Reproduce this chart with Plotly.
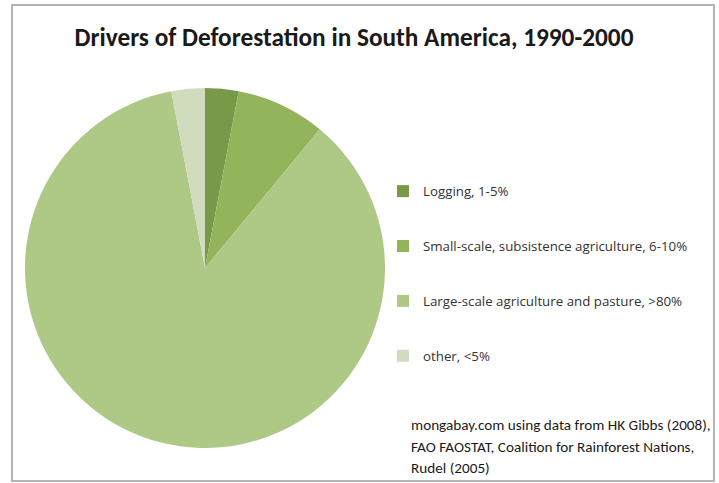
import plotly.graph_objects as go

# ---- data ----
categories = [
    "Logging, 1-5%",
    "Small-scale, subsistence agriculture, 6-10%",
    "Large-scale agriculture and pasture, >80%",
    "other, <5%",
]
shares = [3, 8, 86, 3]
colors = ["#789947", "#93b45a", "#aec886", "#d1dcbf"]
title_text = "Drivers of Deforestation in South America, 1990-2000"
source_lines = [
    "mongabay.com using data from HK Gibbs (2008),",
    "FAO FAOSTAT, Coalition for Rainforest Nations,",
    "Rudel (2005)",
]

W, H = 719, 483
FONT = "Carlito, Calibri, Lato, sans-serif"
LEG_FONT = "Open Sans"

# legend labels padded with blank lines for wider vertical spacing
legend_labels = [c + "<br>\u00a0<br>\u00a0" for c in categories]

fig = go.Figure(
    go.Pie(
        labels=legend_labels,
        values=shares,
        sort=False,
        direction="clockwise",
        rotation=0,
        textinfo="none",
        hoverinfo="skip",
        marker=dict(colors=colors, line=dict(width=0)),
        domain=dict(x=[25 / W, 385 / W], y=[1 - 448 / H, 1 - 88 / H]),
        showlegend=True,
    )
)

annotations = []
for i, line in enumerate(source_lines):
    annotations.append(
        dict(
            text=line,
            x=409 / W,
            y=1 - (425 + 21.5 * i) / H,
            xref="paper",
            yref="paper",
            xanchor="left",
            yanchor="middle",
            showarrow=False,
            font=dict(family=FONT, size=15.2, color="#1a1a1a"),
        )
    )

fig.update_layout(
    width=W,
    height=H,
    margin=dict(l=0, r=0, t=0, b=0),
    paper_bgcolor="white",
    plot_bgcolor="white",
    title=dict(
        text="<b>" + title_text + "</b>",
        x=354 / W,
        xanchor="center",
        y=1 - 37 / H,
        yanchor="middle",
        font=dict(family=FONT, size=25.3, color="#1a1a1a"),
    ),
    legend=dict(
        x=383 / W,
        xanchor="left",
        y=1 - 176 / H,
        yanchor="top",
        valign="top",
        font=dict(family=LEG_FONT, size=13.3, color="#333333"),
        bgcolor="rgba(0,0,0,0)",
        borderwidth=0,
    ),
    annotations=annotations,
    shapes=[
        dict(
            type="rect",
            xref="paper",
            yref="paper",
            x0=12 / W,
            x1=714 / W,
            y0=1 - 481 / H,
            y1=1 - 5 / H,
            line=dict(color="#b4b4b4", width=2),
            fillcolor="rgba(0,0,0,0)",
            layer="above",
        )
    ],
)

fig.write_html(
    "out.html",
    config={"displayModeBar": False},
    post_script="document.body.style.margin='0';document.body.style.overflow='hidden';",
)
